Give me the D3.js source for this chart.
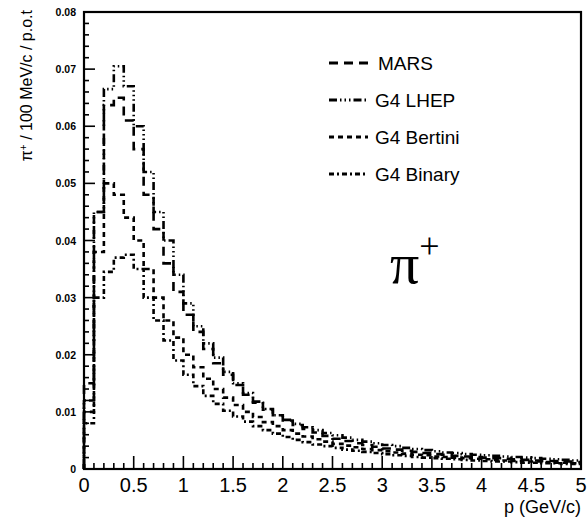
<!DOCTYPE html>
<html>
<head>
<meta charset="utf-8">
<script src="https://cdn.jsdelivr.net/npm/d3@7"></script>
<style>
  body { margin: 0; background: #fff; }
  text { font-family: "Liberation Sans", Arial, sans-serif; fill: #000; }
</style>
</head>
<body>
<div id="chart"></div>
<script>
const width = 588;
const height = 521;

// bin edges: 0.1 GeV/c wide, 0 to 5
const binWidth = 0.1;
const nBins = 50;

// histogram contents (pi+ / 100 MeV/c / p.o.t), one value per bin
const mars = [
  0.015, 0.045, 0.0637, 0.065, 0.061, 0.056, 0.048, 0.042, 0.036, 0.031,
  0.027, 0.024, 0.021, 0.0185, 0.0165, 0.0147, 0.013, 0.0116, 0.0104, 0.0094,
  0.0085, 0.0077, 0.0070, 0.0064, 0.0058, 0.0053, 0.0049, 0.0045, 0.0042, 0.0039,
  0.0036, 0.0034, 0.0032, 0.0030, 0.0028, 0.0026, 0.0025, 0.0023, 0.0022, 0.0021,
  0.0020, 0.0019, 0.0018, 0.0017, 0.0016, 0.0015, 0.0014, 0.0014, 0.0013, 0.0012
];
const lhep = [
  0.012, 0.045, 0.0665, 0.0705, 0.067, 0.060, 0.052, 0.045, 0.040, 0.034,
  0.029, 0.025, 0.022, 0.0195, 0.017, 0.015, 0.0133, 0.0118, 0.0105, 0.0094,
  0.0086, 0.0079, 0.0073, 0.0068, 0.0063, 0.0059, 0.0055, 0.0051, 0.0048, 0.0045,
  0.0042, 0.0040, 0.0037, 0.0035, 0.0033, 0.0031, 0.0029, 0.0028, 0.0026, 0.0025,
  0.0024, 0.0023, 0.0022, 0.0021, 0.0020, 0.0019, 0.0018, 0.0017, 0.0016, 0.0015
];
const bertini = [
  0.010, 0.038, 0.050, 0.048, 0.044, 0.040, 0.035, 0.030, 0.026, 0.023,
  0.020, 0.0178, 0.0158, 0.014, 0.0125, 0.0112, 0.010, 0.0091, 0.0082, 0.0075,
  0.0068, 0.0062, 0.0057, 0.0052, 0.0048, 0.0044, 0.0041, 0.0038, 0.0035, 0.0033,
  0.0031, 0.0029, 0.0027, 0.0025, 0.0024, 0.0022, 0.0021, 0.0020, 0.0019, 0.0018,
  0.0017, 0.0016, 0.0015, 0.0014, 0.0013, 0.0013, 0.0012, 0.0011, 0.0011, 0.0010
];
const binary = [
  0.008, 0.030, 0.0345, 0.037, 0.0375, 0.035, 0.030, 0.026, 0.0225, 0.019,
  0.0165, 0.0145, 0.0128, 0.0114, 0.0102, 0.0092, 0.0083, 0.0075, 0.0068, 0.0062,
  0.0056, 0.0051, 0.0047, 0.0043, 0.0040, 0.0037, 0.0034, 0.0032, 0.0030, 0.0028,
  0.0026, 0.0024, 0.0023, 0.0021, 0.0020, 0.0019, 0.0018, 0.0017, 0.0016, 0.0015,
  0.0014, 0.0013, 0.0013, 0.0012, 0.0011, 0.0011, 0.0010, 0.0010, 0.0009, 0.0009
];

const seriesNames = ["MARS", "G4 LHEP", "G4 Bertini", "G4 Binary"];
const seriesValues = [mars, lhep, bertini, binary];
const dashes = ["9,6", "8,3,1.5,3,1.5,3,1.5,3", "5,4", "5,3,2,3"];

const xTicks = [0, 0.5, 1, 1.5, 2, 2.5, 3, 3.5, 4, 4.5, 5];
const xTickLabels = ["0", "0.5", "1", "1.5", "2", "2.5", "3", "3.5", "4", "4.5", "5"];
const yTicks = [0, 0.01, 0.02, 0.03, 0.04, 0.05, 0.06, 0.07, 0.08];
const yTickLabels = ["0", "0.01", "0.02", "0.03", "0.04", "0.05", "0.06", "0.07", "0.08"];

const margin = { left: 84, right: 7, top: 12, bottom: 52 };

const x = d3.scaleLinear().domain([0, 5]).range([margin.left, width - margin.right]);
const y = d3.scaleLinear().domain([0, 0.08]).range([height - margin.bottom, margin.top]);

const svg = d3.select("#chart")
    .append("svg")
    .attr("width", width)
    .attr("height", height)
    .attr("viewBox", `0 0 ${width} ${height}`);

// step histograms
const step = d3.line()
    .curve(d3.curveStepAfter)
    .x(d => x(d[0]))
    .y(d => y(d[1]));

seriesValues.forEach((vals, i) => {
    const pts = [[0, 0]];
    vals.forEach((v, j) => pts.push([j * binWidth, v]));
    pts.push([nBins * binWidth, vals[vals.length - 1]]);
    svg.append("path")
        .attr("d", step(pts))
        .attr("fill", "none")
        .attr("stroke", "#000")
        .attr("stroke-width", 2.6)
        .attr("stroke-dasharray", dashes[i]);
});

// frame
const x0 = x(0), x1 = x(5), y0 = y(0), y1 = y(0.08);
svg.append("rect")
    .attr("x", x0).attr("y", y1)
    .attr("width", x1 - x0).attr("height", y0 - y1)
    .attr("fill", "none").attr("stroke", "#000").attr("stroke-width", 2.2);

// x ticks
const xMinor = d3.range(0, 5.0001, 0.1);
svg.append("g").selectAll("line").data(xMinor).join("line")
    .attr("x1", d => x(d)).attr("x2", d => x(d))
    .attr("y1", y0)
    .attr("y2", (d, i) => i % 5 === 0 ? y0 - 13 : y0 - 6)
    .attr("stroke", "#000").attr("stroke-width", 1.6);

svg.append("g").selectAll("text").data(xTicks).join("text")
    .attr("x", d => x(d))
    .attr("y", y0 + 23)
    .attr("text-anchor", "middle")
    .attr("font-size", 20)
    .text((d, i) => xTickLabels[i]);

// y ticks
const yMinor = d3.range(0, 0.08001, 0.002);
svg.append("g").selectAll("line").data(yMinor).join("line")
    .attr("x1", x0)
    .attr("x2", (d, i) => i % 5 === 0 ? x0 + 11 : x0 + 5)
    .attr("y1", d => y(d)).attr("y2", d => y(d))
    .attr("stroke", "#000").attr("stroke-width", 1.6);

svg.append("g").selectAll("text").data(yTicks).join("text")
    .attr("x", x0 - 8)
    .attr("y", d => y(d) + 4)
    .attr("text-anchor", "end")
    .attr("font-size", 10.5)
    .attr("font-weight", "bold")
    .text((d, i) => yTickLabels[i]);

// axis titles
svg.append("text")
    .attr("x", x1)
    .attr("y", y0 + 44)
    .attr("text-anchor", "end")
    .attr("font-size", 18)
    .text("p (GeV/c)");

svg.append("text")
    .attr("transform", `translate(32, 10) rotate(-90)`)
    .attr("text-anchor", "end")
    .attr("font-size", 16)
    .html('π<tspan baseline-shift="super" font-size="10">+</tspan> / 100 MeV/c / p.o.t');

// legend
const legend = svg.append("g");
seriesNames.forEach((name, i) => {
    const ly = 63 + i * 37;
    legend.append("line")
        .attr("x1", 329).attr("x2", 368)
        .attr("y1", ly).attr("y2", ly)
        .attr("stroke", "#000").attr("stroke-width", 2.8)
        .attr("stroke-dasharray", dashes[i]);
    legend.append("text")
        .attr("x", i === 0 ? 378 : 375)
        .attr("y", ly + 7)
        .attr("font-size", 19)
        .text(name);
});

// pi+ label
const pl = svg.append("text")
    .attr("x", 390)
    .attr("y", 283)
    .style("font-family", "'Liberation Serif', 'Times New Roman', serif");
pl.append("tspan").attr("font-size", 58).text("π");
pl.append("tspan").attr("font-size", 36).attr("dy", -25).text("+");
</script>
</body>
</html>
